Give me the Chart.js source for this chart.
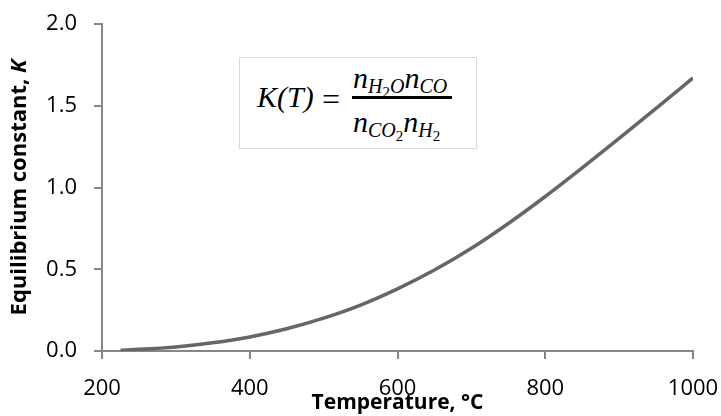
<!DOCTYPE html>
<html><head><meta charset="utf-8">
<script src="https://cdn.jsdelivr.net/npm/chart.js@4.4.1/dist/chart.umd.min.js"></script>
<style>
html,body{margin:0;padding:0;background:#fff;}
#wrap{position:relative;width:721px;height:416px;}
#eq{position:absolute;left:239px;top:57px;width:236px;height:90px;border:1px solid #d9d9d9;background:#fff;font-family:"Liberation Serif",serif;font-style:italic;color:#000;font-size:30px;}
.t{position:absolute;white-space:nowrap;line-height:1;}
.s{font-size:20px;position:relative;top:5px;}
.ss{font-size:15px;position:relative;top:4px;font-style:normal;}
.bar{position:absolute;left:112px;top:38px;width:100px;height:3px;background:#000;}
</style></head>
<body>
<div id="wrap">
<canvas id="c" width="721" height="416"></canvas>
<div id="eq">
  <span class="t" style="left:17px;top:24px;">K(T)</span>
  <span class="t" style="left:82px;top:25px;font-style:normal;font-size:32px;">=</span>
  <span class="t" style="left:113px;top:5px;">n<span class="s">H<span class="ss">2</span>O</span>n<span class="s">CO</span></span>
  <div class="bar"></div>
  <span class="t" style="left:113px;top:49px;">n<span class="s">CO<span class="ss">2</span></span>n<span class="s">H<span class="ss">2</span></span></span>
</div>
</div>
<script>
const temps   = [225, 250, 300, 350, 400, 450, 500, 550, 600, 650, 700, 750, 800, 850, 900, 950, 1000];
const kValues = [0.005, 0.010, 0.025, 0.050, 0.086, 0.136, 0.201, 0.281, 0.380, 0.495, 0.628, 0.780, 0.945, 1.120, 1.300, 1.484, 1.670];
const xTicks = [200, 400, 600, 800, 1000];
const yTicks = [0, 0.5, 1.0, 1.5, 2.0];
const xTitle = 'Temperature, °C';
const yTitleMain = 'Equilibrium constant, ';
const yTitleVar = 'K';

const axisColor = '#868686';

const yTitlePlugin = {
  id: 'yTitle',
  afterDraw(chart) {
    const ctx = chart.ctx;
    const ca = chart.chartArea;
    ctx.save();
    ctx.translate(20, (ca.top + ca.bottom) / 2);
    ctx.rotate(-Math.PI / 2);
    ctx.fillStyle = '#000';
    ctx.textBaseline = 'middle';
    const f1 = 'bold 22px "Open Sans"';
    const f2 = 'italic bold 22px "Open Sans"';
    ctx.font = f1; const w1 = ctx.measureText(yTitleMain).width;
    ctx.font = f2; const w2 = ctx.measureText(yTitleVar).width;
    let x = -(w1 + w2) / 2;
    ctx.textAlign = 'left';
    ctx.font = f1; ctx.fillText(yTitleMain, x, 0);
    ctx.font = f2; ctx.fillText(yTitleVar, x + w1, 0);
    ctx.restore();
  }
};

new Chart(document.getElementById('c'), {
  type: 'line',
  data: {
    datasets: [{
      data: temps.map((t, i) => ({ x: t, y: kValues[i] })),
      borderColor: '#666666',
      borderWidth: 3.5,
      pointRadius: 0,
      cubicInterpolationMode: 'monotone',
      fill: false
    }]
  },
  options: {
    responsive: false,
    animation: false,
    layout: { padding: { top: 24, right: 28, left: 0, bottom: 0 } },
    plugins: { legend: { display: false }, tooltip: { enabled: false } },
    scales: {
      x: {
        type: 'linear', min: 200, max: 1000,
        afterBuildTicks: s => { s.ticks = xTicks.map(v => ({ value: v })); },
        afterFit: s => { s.height = 65; s.paddingLeft = 0; s.paddingRight = 0; },
        grid: { display: true, drawOnChartArea: false, drawTicks: true, tickLength: 8, color: axisColor, lineWidth: 2 },
        border: { display: true, color: axisColor, width: 2 },
        ticks: { color: '#000', font: { family: 'Open Sans', size: 22 }, padding: 17, maxRotation: 0, autoSkip: false, callback: v => String(v) },
        title: { display: true, text: xTitle, color: '#000', font: { family: 'Open Sans', size: 21, weight: 'bold' }, padding: { top: 0, bottom: 0 } }
      },
      y: {
        type: 'linear', min: 0, max: 2,
        afterBuildTicks: s => { s.ticks = yTicks.map(v => ({ value: v })); },
        afterFit: s => { s.width = 102; s.paddingTop = 0; s.paddingBottom = 0; },
        grid: { display: true, drawOnChartArea: false, drawTicks: true, tickLength: 8, color: axisColor, lineWidth: 2 },
        border: { display: true, color: axisColor, width: 2 },
        ticks: { color: '#000', font: { family: 'Open Sans', size: 22 }, padding: 17, callback: v => Number(v).toFixed(1) }
      }
    }
  },
  plugins: [yTitlePlugin]
});
</script>
</body></html>
